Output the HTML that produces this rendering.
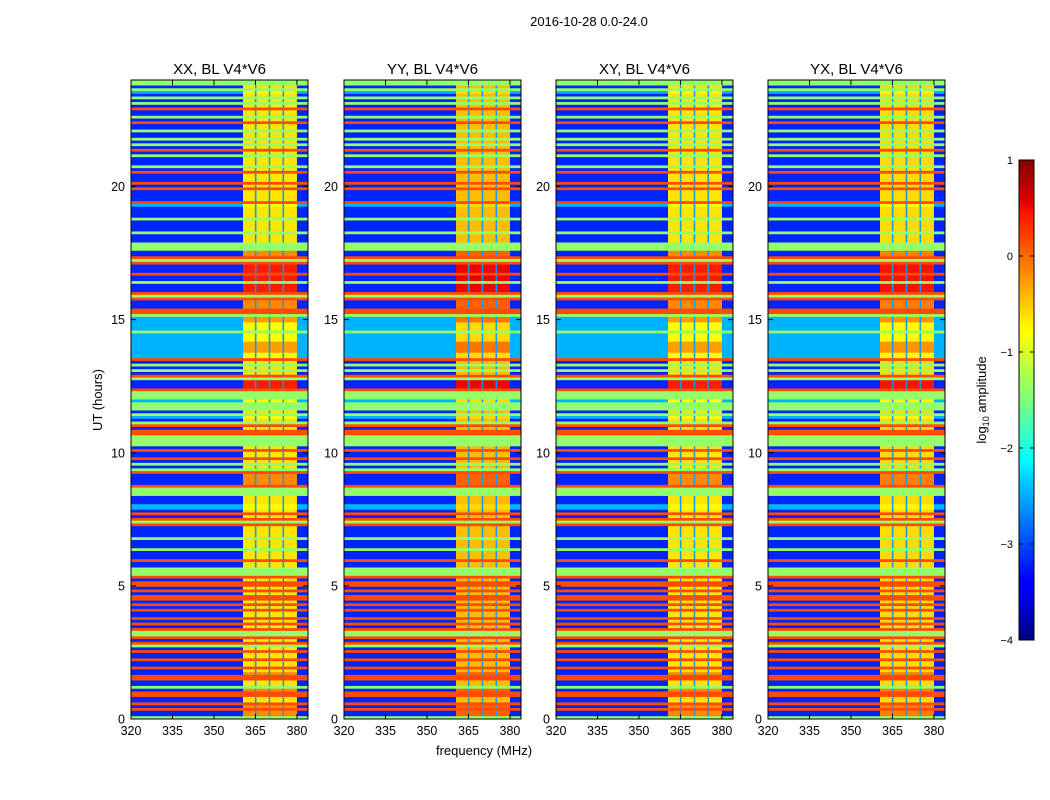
<!DOCTYPE html>
<html><head><meta charset="utf-8">
<style>html,body{margin:0;padding:0;background:#fff;}svg{display:block;font-family:"Liberation Sans",sans-serif;}</style>
</head><body>
<svg id="chart" width="1050" height="800" viewBox="0 0 1050 800">
<text x="589" y="26" font-size="13" text-anchor="middle">2016-10-28 0.0-24.0</text>
<text x="484" y="755" font-size="13" text-anchor="middle">frequency (MHz)</text>
<text transform="translate(102,400) rotate(-90)" font-size="13" text-anchor="middle">UT (hours)</text>
<text transform="translate(986,400) rotate(-90)" font-size="13" text-anchor="middle">log<tspan font-size="9" dy="3">10</tspan><tspan dy="-3"> amplitude</tspan></text>
<defs><linearGradient id="jet" x1="0" y1="1" x2="0" y2="0">
<stop offset="0" stop-color="#000080"/><stop offset="0.11" stop-color="#0000ff"/><stop offset="0.125" stop-color="#0000ff"/><stop offset="0.34" stop-color="#00d4ff"/><stop offset="0.375" stop-color="#00ffff"/><stop offset="0.5" stop-color="#7dff7a"/><stop offset="0.64" stop-color="#ffff00"/><stop offset="0.66" stop-color="#fff000"/><stop offset="0.89" stop-color="#ff1300"/><stop offset="0.91" stop-color="#e60000"/><stop offset="1" stop-color="#800000"/></linearGradient></defs>
<g id="panels"></g>
<g>
<rect x="1019" y="160" width="15" height="480" fill="url(#jet)" stroke="#000" stroke-width="1"/>
</g>
<g id="cbticks"></g>
</svg>
<script>
const panelTitles = ["XX, BL V4*V6","YY, BL V4*V6","XY, BL V4*V6","YX, BL V4*V6"];
const panelBandOffset = [0, 0.2, 0, 0.05];
const xTicks = [320,335,350,365,380];
const yTicks = [0,5,10,15,20];
const cbTicks = [1,0,-1,-2,-3,-4];
const cbLabels = ["1","0","\u22121","\u22122","\u22123","\u22124"];
// row codes from top (24h) to bottom (0h), lengths in 0.1 h
const segCodes = ["g","b","g","c","b","g","b","g","b","o","b","g","b","o","b","g","b","g","b","g","b","o","b","g","b","g","b","o","b","o","b","o","b","o","c","b","g","b","g","b","g","y","o","g","o","r","o","r","g","r","o","g","o","y","o","g","C","c","g","c","C","c","o","b","g","b","g","b","o","g","r","o","g","c","g","g","b","g","c","b","g","o","b","o","g","b","o","b","o","b","g","b","g","o","y","o","g","b","c","b","o","b","o","g","o","b","b","g","b","g","b","o","b","g","g","o","b","o","b","o","b","o","b","o","b","o","b","b","o","b","o","b","o","g","o","b","o","g","b","o","b","o","b","o","b","y","o","b","g","y","o","b","o","y","o","y","g"];
const segLens  = [2,1,1,1,1,1,1,1,1,1,2,1,1,1,2,1,2,1,1,1,1,1,1,1,3,1,1,1,3,1,1,1,4,1,1,4,1,4,1,3,3,2,1,1,1,3,1,2,1,3,1,1,1,3,2,1,2,3,1,3,4,2,1,1,1,1,1,1,1,1,3,1,3,1,2,1,1,1,1,1,1,1,1,2,4,1,1,2,1,1,1,1,1,1,4,1,3,3,2,1,1,1,1,1,1,1,3,1,3,1,3,1,2,1,2,1,1,2,1,1,1,2,1,1,1,1,1,1,1,1,1,1,1,2,1,1,1,1,1,1,2,1,2,1,1,1,2,2,1,1,2,2,1,1,1,2,1,4,2];
const codeBase = {b:-3.2,c:-2.5,C:-2.5,g:-1.4,o:0.0,y:-3.2,r:-3.2};
const codeBand = {b:-0.75,c:-0.9,C:-0.4,g:-1.4,o:0.0,y:-0.3,r:0.25};
const bandStart = 360.5, bandEnd = 380, stripeFreqs = [365,370,375];
const fMin = 320, fMax = 384, tMin = 0, tMax = 24;

function jet(v){
  let t=(v+4)/5; t=Math.max(0,Math.min(1,t));
  const c=x=>Math.round(255*Math.max(0,Math.min(1,x)));
  return `rgb(${c(1.5-Math.abs(4*t-3))},${c(1.5-Math.abs(4*t-2))},${c(1.5-Math.abs(4*t-1))})`;
}
const NS="http://www.w3.org/2000/svg";
function mk(tag,attrs,parent){const e=document.createElementNS(NS,tag);for(const k in attrs)e.setAttribute(k,attrs[k]);parent.appendChild(e);return e;}
const panelX=[131,344,556,768], pw=177, yTop=80, yBot=719;
const rows=[];segCodes.forEach((c,i)=>{const n=segLens[i]||1;for(let k=0;k<n;k++)rows.push(c);});
const N=rows.length;
const panels=document.getElementById('panels');
panelX.forEach((x0,p)=>{
  const x=f=>x0+(f-fMin)/(fMax-fMin)*pw;
  const y=h=>yBot-(h-tMin)/(tMax-tMin)*(yBot-yTop);
  const g=mk('g',{},panels);
  
  
  const dh=24/N;
  rows.forEach((c,i)=>{
    const h1=24-i*dh, h0=h1-dh;
    const y0=y(h1), hh=y(h0)-y(h1)+0.4;
    const base=codeBase[c];
    const band=(c==='g'||c==='o')?codeBand[c]:codeBand[c]+panelBandOffset[p];
    let r=mk('rect',{x:x(fMin),y:y0,width:x(bandStart)-x(fMin),height:hh,fill:jet(base)},g);
    
    
    r=mk('rect',{x:x(bandStart),y:y0,width:x(bandEnd)-x(bandStart),height:hh,fill:jet(band)},g);
    
    
    r=mk('rect',{x:x(bandEnd),y:y0,width:x(fMax)-x(bandEnd),height:hh,fill:jet(base)},g);
    
    
    if(c!=='g'&&c!=='o'){
      stripeFreqs.forEach(f=>{
        const s=mk('rect',{x:x(f)-0.6,y:y0,width:1.6,height:hh,fill:jet(-2.6)},g);
        
        
      });
    }
  });
  const fr=mk('rect',{x:x0,y:yTop,width:pw,height:yBot-yTop,fill:'none',stroke:'#000','stroke-width':1},g);
  
  
  const t=mk('text',{x:x0+pw/2,y:74,'font-size':15,'text-anchor':'middle'},g);
  t.textContent=panelTitles[p];
  
  
  xTicks.forEach(f=>{
    mk('line',{x1:x(f),x2:x(f),y1:yBot,y2:yBot-5,stroke:'#000'},g);
    mk('line',{x1:x(f),x2:x(f),y1:yTop,y2:yTop+5,stroke:'#000'},g);
    const l=mk('text',{x:x(f),y:yBot+16,'font-size':12.5,'text-anchor':'middle'},g);
    l.textContent=f;
    
    
  });
  yTicks.forEach(h=>{
    mk('line',{x1:x0,x2:x0+5,y1:y(h),y2:y(h),stroke:'#000'},g);
    mk('line',{x1:x0+pw,x2:x0+pw-5,y1:y(h),y2:y(h),stroke:'#000'},g);
    const l=mk('text',{x:x0-6,y:y(h)+4.5,'font-size':12.5,'text-anchor':'end'},g);
    l.textContent=h;
    
    
  });
});
const cb=document.getElementById('cbticks');
const cy=v=>640-(v+4)/5*480;
cbTicks.forEach((v,i)=>{
  mk('line',{x1:1019,x2:1023,y1:cy(v),y2:cy(v),stroke:'#000'},cb);
  mk('line',{x1:1034,x2:1030,y1:cy(v),y2:cy(v),stroke:'#000'},cb);
  const l=mk('text',{x:1013,y:cy(v)+4,'font-size':11,'text-anchor':'end'},cb);
  l.textContent=cbLabels[i];
  
  
});
</script>
</body></html>
